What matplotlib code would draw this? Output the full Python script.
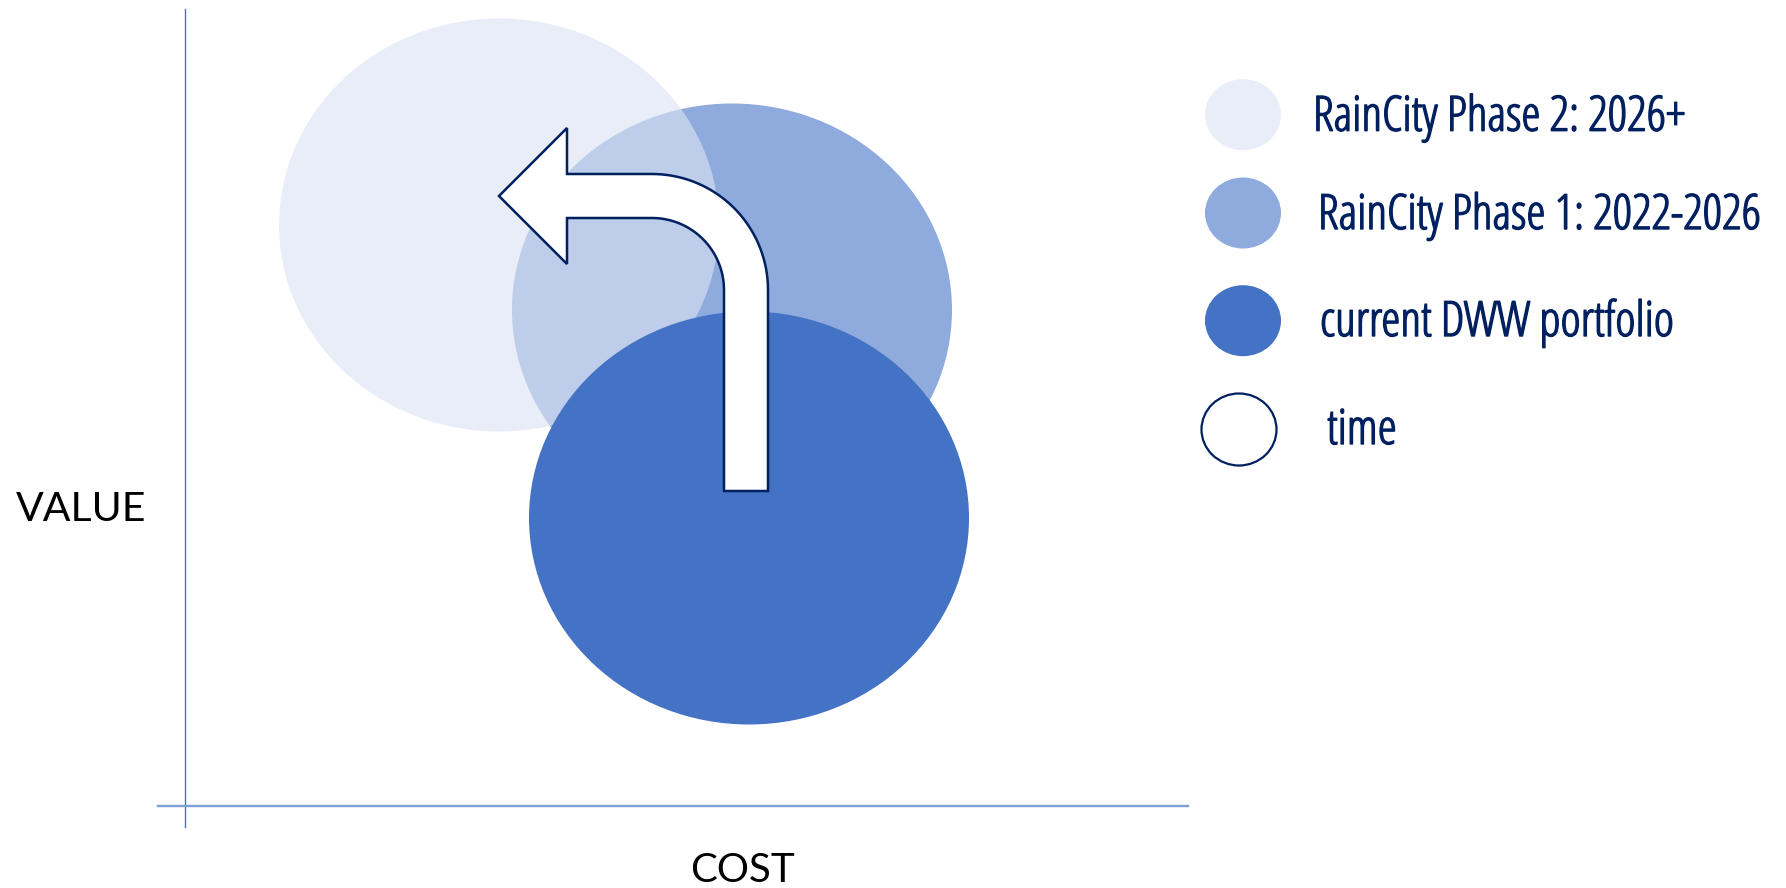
import matplotlib.pyplot as plt
import matplotlib.patheffects as pe
import numpy as np
from matplotlib.patches import Ellipse, Polygon

# Datos del diagrama (costo / valor de cada cartera)
etiquetas = ['RainCity Phase 2: 2026+', 'RainCity Phase 1: 2022-2026', 'current DWW portfolio']
costo = [3.14, 5.47, 5.64]
valor = [5.81, 4.96, 2.88]
etiqueta_tiempo = 'time'

# Estilos
colores = ['#DAE3F3', '#8FAADC', '#4472C4']
alfas = [0.62, 1.0, 1.0]
orden_z = [3, 2, 4]
azul_oscuro = '#002060'
ANCHO_BURBUJA = 4.4
ALTO_BURBUJA = 4.13

fig = plt.figure(figsize=(17.86, 8.88), dpi=100)
ax = fig.add_axes([0, 0, 1, 1])
ax.set_xlim(-1.85, 16.01)
ax.set_ylim(-0.82, 8.06)
ax.axis('off')

# Ejes dibujados como lineas
ax.plot([0, 0], [-0.21, 7.97], color='#4472C4', lw=1.0, zorder=1)
ax.plot([-0.27, 10.03], [0, 0], color='#7F9FD8', lw=1.7, zorder=1)

# Burbujas
for i in range(len(etiquetas)):
    ax.add_patch(Ellipse((costo[i], valor[i]), ANCHO_BURBUJA, ALTO_BURBUJA,
                         facecolor=colores[i], edgecolor='none',
                         alpha=alfas[i], zorder=orden_z[i]))

# Flecha curva (del portafolio actual hacia la fase 2)
x0, y0 = costo[2] - 0.03, valor[2] + 0.27
x1, y1 = costo[0], valor[0] + 0.29
r, hw, hl, hh = 0.94, 0.22, 0.68, 0.68
cx, cy = x0 - r, y1 - r
t = np.linspace(0, np.pi / 2, 40)
exterior = np.column_stack([cx + (r + hw) * np.cos(t), cy + (r + hw) * np.sin(t)])
interior = np.column_stack([cx + (r - hw) * np.cos(t[::-1]), cy + (r - hw) * np.sin(t[::-1])])
puntos = np.vstack([
    [[x0 + hw, y0]],
    exterior,
    [[x1 + hl, y1 + hw], [x1 + hl, y1 + hh], [x1, y1],
     [x1 + hl, y1 - hh], [x1 + hl, y1 - hw]],
    interior,
    [[x0 - hw, y0]],
])
ax.add_patch(Polygon(puntos, closed=True, facecolor='white',
                     edgecolor=azul_oscuro, lw=1.8, joinstyle='miter', zorder=5))

# Leyenda manual (fuente condensada, un poco engrosada)
estilo_leyenda = dict(fontsize=35, color=azul_oscuro, family='Open Sans',
                      stretch='condensed', va='baseline', ha='left',
                      path_effects=[pe.withStroke(linewidth=1.0, foreground=azul_oscuro)])
leyenda_y = [6.913, 5.93, 4.853]
texto_x = [11.28, 11.33, 11.35]
texto_y = [6.753, 5.77, 4.70]
for i in range(len(etiquetas)):
    ax.add_patch(Ellipse((10.58, leyenda_y[i]), 0.76, 0.71, facecolor=colores[i],
                         edgecolor='none', alpha=alfas[i], zorder=3))
    ax.text(texto_x[i], texto_y[i], etiquetas[i], **estilo_leyenda)
ax.add_patch(Ellipse((10.54, 3.765), 0.75, 0.72, facecolor='white',
                     edgecolor=azul_oscuro, lw=1.6, zorder=3))
ax.text(11.42, 3.62, etiqueta_tiempo, **estilo_leyenda)

# Titulos de ejes
ax.text(-1.04, 2.85, 'VALUE', fontsize=29.5, color='black', family='Lato',
        ha='center', va='baseline')
ax.text(5.58, -0.757, 'COST', fontsize=29, color='black', family='Lato',
        ha='center', va='baseline')

plt.savefig('out.png', dpi=100)
plt.close()
